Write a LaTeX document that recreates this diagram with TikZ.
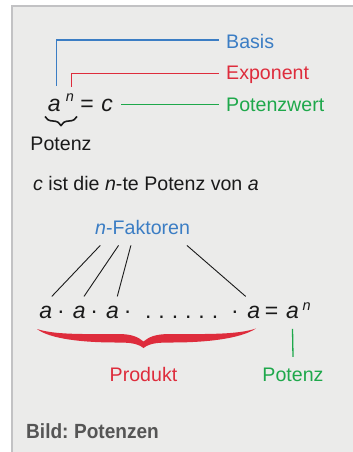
\documentclass[tikz,border=0pt]{standalone}
\usepackage{fontspec}
\setmainfont{Liberation Sans}
\usetikzlibrary{decorations.pathreplacing,positioning}
\definecolor{panel}{HTML}{EBEBEA}
\definecolor{frame}{HTML}{C2C2C4}
\definecolor{basis}{HTML}{3B7DC4}
\definecolor{expo}{HTML}{DE2C3C}
\definecolor{wert}{HTML}{1EA84B}
\definecolor{ink}{HTML}{1A1A1A}
\definecolor{caption}{HTML}{555555}
\tikzset{
  every node/.style={inner sep=0pt,text=ink},
  lbl/.style={anchor=base west,font=\fontsize{19.6}{23}\selectfont},
  mid/.style={anchor=base,font=\fontsize{19.6}{23}\selectfont},
  sym/.style={anchor=base,font=\fontsize{23}{26}\selectfont\itshape},
  op/.style={anchor=base,font=\fontsize{23}{26}\selectfont},
  supsym/.style={anchor=base,font=\fontsize{14.5}{16}\selectfont\itshape},
  guide/.style={line width=1.3pt},
  faktor/.style={line width=0.9pt,draw=ink},
  curly/.style={decorate,decoration={brace,mirror,amplitude=9pt},line width=1.6pt,draw=ink},
}
\begin{document}
\begin{tikzpicture}[x=1pt,y=-1pt]
\useasboundingbox (0,0) rectangle (353,452);
% panel
\fill[panel] (11,5) rectangle (353,452);
\draw[frame,line width=1.6pt] (11.8,452) -- (11.8,5.8) -- (353,5.8);

% a^n = c
\node[sym] (a0) at (54.3,111.5) {a};
\node[supsym] (n0) at (70,101.5) {n};
\node[op] (eq0) at (87,111.5) {=};
\node[sym] (c0) at (107.2,111.5) {c};
\node[lbl,text=basis] (basis) at (226,48.3) {Basis};
\node[lbl,text=expo] (expo) at (226,79.3) {Exponent};
\node[lbl,text=wert] (wert) at (226,111) {Potenzwert};

\draw[guide,basis] ([xshift=2pt,yshift=13pt]a0.north) |- ([xshift=-7pt,yshift=1.3pt]basis.west);
\draw[guide,expo] ([xshift=1.6pt,yshift=7pt]n0.north) |- ([xshift=-7pt,yshift=0.8pt]expo.west);
\draw[guide,wert] ([xshift=8pt]c0.east |- wert.west) -- ([xshift=-7pt]wert.west);

\draw[curly] (45,116.5) -- (77,116.5);
\node[mid] (pot0) at (61,150) {Potenz};

\node[lbl] (satz) at (33,190.7) {\textit{c} ist die \textit{n}-te Potenz von \textit{a}};

% product
\node[lbl,text=basis] (nf) at (95,234) {\textit{n}-Faktoren};
\node[sym] (a1) at (45.8,318.5) {a};
\node[sym] (a2) at (79.2,318.5) {a};
\node[sym] (a3) at (112.5,318.5) {a};
\node[sym] (a4) at (253.7,318.5) {a};
\foreach \x [count=\i] in {61,94.3,127.7,235}
  \node[op] (m\i) at (\x,318.5) {·};
\foreach \i in {0,...,5}
  \node[op] (p\i) at ({148.3+13.33*\i},318.5) {.};
\node[op] (eq1) at (271.7,318.5) {=};
\node[sym] (a5) at (292.5,318.5) {a};
\node[supsym] (n5) at (306.7,310) {n};

\foreach \s/\t/\ex in {-42.3/a1/6,-24/a2/4.8,-11.7/a3/4.8,44.3/a4/-8}
  \draw[faktor] ([xshift=\s pt,yshift=-11pt]nf.south) -- ([xshift=\ex pt,yshift=9.5pt]\t.north);

% red brace
\fill[expo] (37,329) .. controls (55,335) and (85,334) .. (118,334)
  .. controls (132,334) and (138,337) .. (143.5,341.5)
  .. controls (149,337) and (155,334) .. (170,334)
  .. controls (203,334) and (237,335) .. (256,328.5)
  .. controls (240,339) and (205,342.5) .. (172,342.5)
  .. controls (158,342.5) and (150,343) .. (143.5,348)
  .. controls (137,343) and (129,342.5) .. (116,342.5)
  .. controls (83,342.5) and (50,339) .. (37,329) -- cycle;
\node[mid,text=expo] (prod) at (143.5,381) {Produkt};
\node[mid,text=wert] (pot1) at (293,381) {Potenz};
\draw[guide,wert] ([yshift=-10pt]a5.south) -- ([yshift=10.5pt]pot1.north);

\node[anchor=base west,text=caption,font=\fontsize{20.5}{23}\selectfont\bfseries] (bild) at (26,438) {\scalebox{0.93}[1]{Bild:\hspace{6pt}Potenzen}};
\end{tikzpicture}
\end{document}
